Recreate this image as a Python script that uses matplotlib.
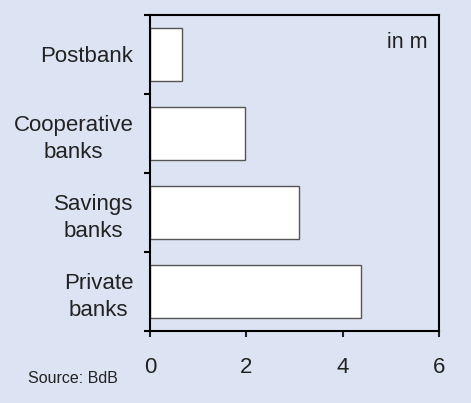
import matplotlib
matplotlib.use("Agg")
import matplotlib.pyplot as plt
import numpy as np

categories = ["Private\nbanks", "Savings\nbanks", "Cooperative\nbanks", "Postbank"]
values = [4.39, 3.10, 1.98, 0.66]
xticks = [0, 2, 4, 6]

bg = "#DCE3F2"
plt.rcParams['font.family'] = ['Liberation Sans', 'DejaVu Sans']

fig = plt.figure(figsize=(4.71, 4.03), dpi=100, facecolor=bg)
ax = fig.add_axes([0.3185, 0.1787, 0.932 - 0.3185, 0.9628 - 0.1787])
ax.set_facecolor(bg)

y = np.arange(len(categories))
ax.barh(y, values, height=0.68, color="white", edgecolor="#555555", linewidth=1.0, zorder=2)

ax.set_xlim(0, 6)
ax.set_ylim(-0.5, len(categories) - 0.5)

ax.set_xticks(xticks)
ax.set_xticklabels([str(t) for t in xticks])
ax.tick_params(axis='x', direction='out', length=4.5, width=1.5, pad=14, labelsize=16, colors='#222222')

ax.set_yticks(np.arange(-0.5, len(categories), 1.0))
ax.set_yticklabels([])
ax.tick_params(axis='y', which='major', direction='out', length=4.5, width=1.5)
ax.set_yticks(y, minor=True)
ax.set_yticklabels(categories, minor=True, multialignment='center', linespacing=1.35)
ax.tick_params(axis='y', which='minor', length=0, pad=12, labelsize=16, labelcolor='#222222')

for s in ax.spines.values():
    s.set_linewidth(1.5)
    s.set_color('black')

ax.text(0.96, 0.945, "in m", transform=ax.transAxes, ha='right', va='top', fontsize=15.5, color='#222222')
fig.text(0.06, 0.06, "Source: BdB", ha='left', va='center', fontsize=11.5, color='#222222')

fig.savefig("out.png", dpi=100, facecolor=bg)
